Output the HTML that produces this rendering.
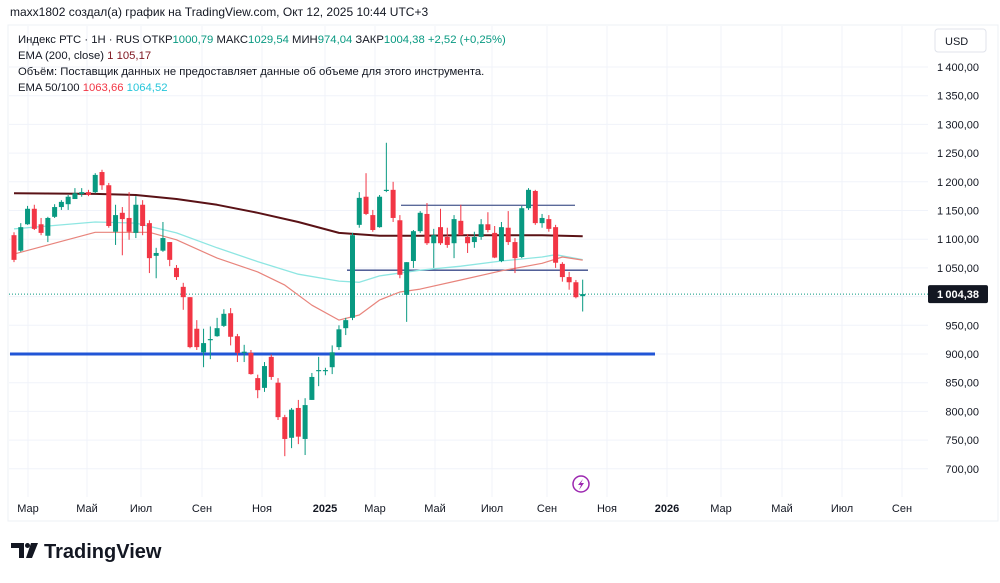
<!DOCTYPE html>
<html><head><meta charset="utf-8">
<style>
body{margin:0;background:#fff;width:1000px;height:578px;overflow:hidden;font-family:"Liberation Sans","DejaVu Sans",sans-serif;}
svg text{font-family:"Liberation Sans","DejaVu Sans",sans-serif;}
</style></head>
<body>
<svg id="chart" width="1000" height="578" xmlns="http://www.w3.org/2000/svg">
<text x="10" y="16" font-size="12" fill="#131722">maxx1802 создал(а) график на TradingView.com, Окт 12, 2025 10:44 UTC+3</text>
<rect x="8" y="25" width="990" height="496" fill="none" stroke="#eef0f4"/>
<g id="grid"></g>
<g id="hlines"></g>
<g id="emas"></g>
<g id="candles"></g>
<g id="yaxis"></g>
<g id="xaxis"></g>
<g font-size="11.3">
<text x="18" y="43" fill="#131722">Индекс РТС · 1H · RUS  ОТКР<tspan fill="#089981">1000,79</tspan>  МАКС<tspan fill="#089981">1029,54</tspan>  МИН<tspan fill="#089981">974,04</tspan>  ЗАКР<tspan fill="#089981">1004,38</tspan>  <tspan fill="#089981">+2,52 (+0,25%)</tspan></text>
<text x="18" y="59" fill="#131722">EMA (200, close)  <tspan fill="#801922">1 105,17</tspan></text>
<text x="18" y="75" fill="#131722">Объём: Поставщик данных не предоставляет данные об объеме для этого инструмента.</text>
<text x="18" y="91" fill="#131722">EMA 50/100  <tspan fill="#f23645">1063,66</tspan>  <tspan fill="#26c6da">1064,52</tspan></text>
</g>
<rect x="935" y="29" width="51" height="23" rx="3" fill="#fff" stroke="#e0e3eb"/>
<text x="945" y="45" font-size="11" fill="#131722">USD</text>
<g>
<circle cx="581" cy="484" r="8" fill="#fff" stroke="#9c27b0" stroke-width="1.5"/>
<path d="M583 479 L578 485 L581 485 L579 490 L584 483 L581 483 Z" fill="#9c27b0"/>
</g>
<g>
<path d="M11 543 h13 v15 h-5 v-10 h-8 z" fill="#131722"/>
<circle cx="27.5" cy="545.5" r="2.5" fill="#131722"/>
<path d="M31 543 h7 l-6 15 h-6 z" fill="#131722"/>
<text x="44" y="558" font-size="20" font-weight="bold" fill="#131722">TradingView</text>
</g>
</svg>
<script>
const opens=[1107,1080,1126,1153,1126,1106,1139,1156,1161,1170,1179,1182,1182,1217,1194,1113,1146,1137,1111,1160,1128,1071,1080,1095,1050,1017,999,944,903,924,931,949,971,931,902,902,858,841,895,850,790,754,806,752,820,870,870,877,912,945,963,1125,1174,1142,1121,1184,1186,1133,1003,1062,1114,1144,1093,1121,1104,1093,1132,1104,1095,1104,1126,1111,1062,1120,1095,1069,1154,1184,1128,1135,1121,1057,1034,1025,1000.79];
const highs=[1112,1128,1158,1160,1137,1139,1161,1168,1177,1189,1189,1186,1215,1221,1198,1160,1156,1182,1175,1168,1133,1085,1130,1095,1055,1024,999,959,944,948,963,978,980,935,916,907,864,886,899,858,794,806,820,823,867,895,876,915,950,963,1111,1182,1215,1151,1177,1268,1200,1142,1060,1116,1149,1163,1118,1153,1120,1142,1160,1109,1113,1135,1147,1123,1130,1149,1102,1158,1189,1186,1144,1142,1125,1060,1043,1029,1029.54];
const lows=[1060,1078,1125,1116,1107,1095,1137,1151,1151,1170,1174,1175,1180,1186,1120,1090,1072,1099,1102,1107,1041,1032,1078,1053,1029,977,910,907,877,891,930,947,915,886,886,864,823,834,855,785,722,736,743,724,820,844,863,865,907,933,959,1120,1142,1113,1120,1182,1130,1032,956,1050,1111,1090,1050,1090,1085,1067,1107,1076,1085,1099,1112,1067,1060,1090,1041,1067,1151,1125,1120,1113,1050,1026,1012,997,974.04];
const closes=[1064,1121,1153,1118,1111,1137,1156,1165,1174,1180,1182,1177,1212,1194,1123,1142,1135,1113,1160,1123,1067,1076,1102,1064,1034,999,912,912,919,926,945,970,930,902,904,865,837,879,860,790,752,803,756,811,860,872,872,903,943,959,1107,1172,1144,1116,1174,1186,1137,1038,1060,1114,1146,1093,1107,1093,1090,1135,1107,1093,1104,1126,1116,1068,1121,1095,1067,1154,1186,1128,1137,1118,1059,1034,1025,999,1004.38];
const ema200Idx=[1,13,19,25,31,37,43,49,55,61,67,73,79,85];
const ema200=[1180,1179,1177,1170,1160,1146,1130,1111,1106,1106,1107,1107,1107,1105.17];
const ema100Idx=[1,13,19,25,31,37,43,49,52,55,61,67,73,79,81,85];
const ema100=[1118,1130,1128,1111,1085,1061,1039,1027,1025,1036,1046,1053,1062,1069,1073,1064.52];
const ema50Idx=[1,13,21,25,31,37,41,45,49,52,55,58,61,67,73,79,82,85];
const ema50=[1074,1112,1112,1099,1067,1043,1020,985,959,968,994,1008,1013,1029,1045,1058,1069,1063.66];
const priceTicks=[700,750,800,850,900,950,1000,1050,1100,1150,1200,1250,1300,1350,1400];
const timeLabels=["Мар","Май","Июл","Сен","Ноя","2025","Мар","Май","Июл","Сен","Ноя","2026","Мар","Май","Июл","Сен"];
const timeLabelPos=[28,87,141,202,262,325,375,435,492,547,607,667,721,782,842,902];
const NS="http://www.w3.org/2000/svg";
const y=v=>354-(v-900)*0.574;
const x=i=>14+(i-1)*6.77;
function mk(tag,attrs,parent){const e=document.createElementNS(NS,tag);for(const k in attrs)e.setAttribute(k,attrs[k]);parent.appendChild(e);return e;}
const grid=document.getElementById('grid');
const fmt=v=>{let s=v.toFixed(2).replace('.',',');let [a,b]=s.split(',');if(a.length>3)a=a.slice(0,a.length-3)+'\u2009'+a.slice(-3);return a+','+b;};
priceTicks.forEach(v=>{
 const l=mk('line',{x1:9,x2:928,y1:y(v),y2:y(v),stroke:'#f0f3fa'},grid);
 
 
 const t=mk('text',{x:979,y:y(v)+4,'text-anchor':'end','font-size':11,fill:'#131722'},document.getElementById('yaxis'));
 t.textContent=fmt(v);
 
 
});
timeLabels.forEach((s,k)=>{
 const l=mk('line',{x1:timeLabelPos[k],x2:timeLabelPos[k],y1:26,y2:497,stroke:'#f0f3fa'},grid);
 
 
 const t=mk('text',{x:timeLabelPos[k],y:512,'text-anchor':'middle','font-size':11,fill:'#131722','font-weight':(s.length===4?'bold':'normal')},document.getElementById('xaxis'));
 t.textContent=s;
 
 
});
const hl=document.getElementById('hlines');
let e;
e=mk('line',{x1:10,x2:655,y1:y(900),y2:y(900),stroke:'#2155d6','stroke-width':3},hl);


e=mk('line',{x1:401,x2:575,y1:y(1159),y2:y(1159),stroke:'#5b6a9a','stroke-width':1.3},hl);


e=mk('line',{x1:347,x2:588,y1:y(1046),y2:y(1046),stroke:'#3a4a8a','stroke-width':1.3},hl);


const last=closes[closes.length-1];
e=mk('line',{x1:9,x2:928,y1:y(last),y2:y(last),stroke:'#089981','stroke-width':1,'stroke-dasharray':'1,2'},hl);


const em=document.getElementById('emas');
function line(idx,vals,color,w,name){
 const d=idx.map((i,k)=>(k?'L':'M')+x(i).toFixed(1)+' '+y(vals[k]).toFixed(1)).join(' ');
 const p=mk('path',{d:d,fill:'none',stroke:color,'stroke-width':w,'stroke-linejoin':'round'},em);
 
 
}
line(ema100Idx,ema100,'#8ee6e2',1.3,'ema-100-line');
line(ema50Idx,ema50,'#e8847c',1.2,'ema-50-line');
line(ema200Idx,ema200,'#5a1216',2,'ema-200-line');
const cg=document.getElementById('candles');
opens.forEach((o,k)=>{
 const c=closes[k],i=k+1,col=c>=o?'#089981':'#f23645';
 const g=mk('g',{},cg);
 
 
 mk('line',{x1:x(i),x2:x(i),y1:y(highs[k]),y2:y(lows[k]),stroke:col,'stroke-width':1},g);
 const t=Math.min(y(o),y(c)),h=Math.max(1,Math.abs(y(o)-y(c)));
 mk('rect',{x:x(i)-2.5,y:t,width:5,height:h,fill:col},g);
});
const pl=mk('g',{},document.getElementById('yaxis'));


mk('rect',{x:928,y:y(last)-9,width:60,height:18,rx:2,fill:'#131722'},pl);
const tt=mk('text',{x:958,y:y(last)+4,'text-anchor':'middle','font-size':11,'font-weight':'bold',fill:'#fff'},pl);
tt.textContent=fmt(last);
</script>
</body></html>
